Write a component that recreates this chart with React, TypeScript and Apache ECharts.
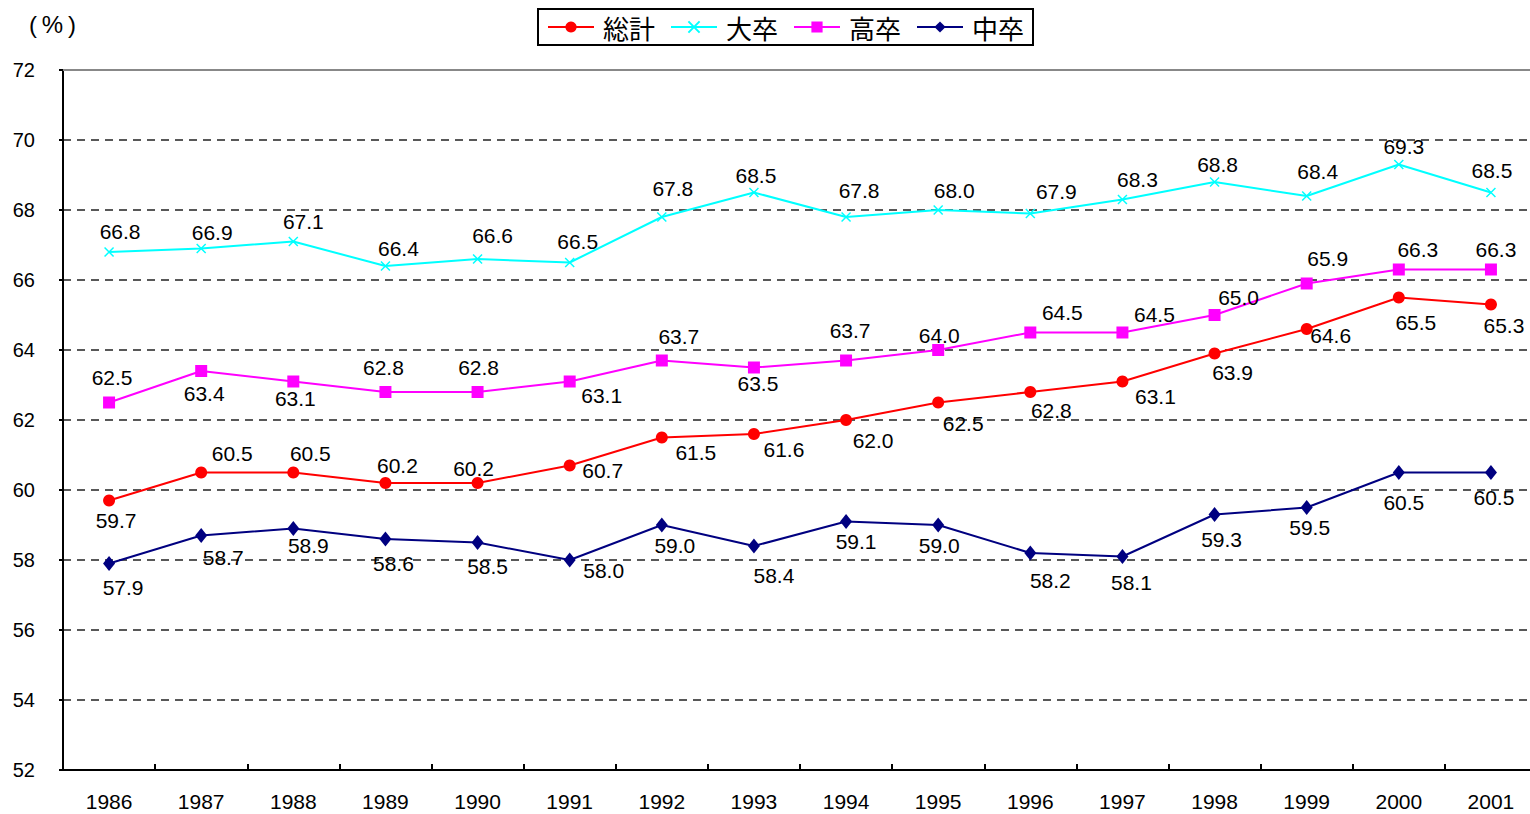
import React, { useEffect, useRef } from "react";
import * as echarts from "echarts";

const years = ["1986","1987","1988","1989","1990","1991","1992","1993","1994","1995","1996","1997","1998","1999","2000","2001"];
const total = [59.7, 60.5, 60.5, 60.2, 60.2, 60.7, 61.5, 61.6, 62.0, 62.5, 62.8, 63.1, 63.9, 64.6, 65.5, 65.3];
const univ = [66.8, 66.9, 67.1, 66.4, 66.6, 66.5, 67.8, 68.5, 67.8, 68.0, 67.9, 68.3, 68.8, 68.4, 69.3, 68.5];
const high = [62.5, 63.4, 63.1, 62.8, 62.8, 63.1, 63.7, 63.5, 63.7, 64.0, 64.5, 64.5, 65.0, 65.9, 66.3, 66.3];
const junior = [57.9, 58.7, 58.9, 58.6, 58.5, 58.0, 59.0, 58.4, 59.1, 59.0, 58.2, 58.1, 59.3, 59.5, 60.5, 60.5];
const seriesNames = ["総計", "大卒", "高卒", "中卒"];
const yMin = 52;
const yMax = 72;

// label placement offsets (dx, dy) relative to each point
const totalLabelOffsets = [[7,20],[31,-19],[17,-19],[12,-18],[-4,-15],[33,5],[34,15],[30,15],[27,20],[25,21],[21,18],[33,15],[18,19],[24,6],[17,25],[13,21]];
const univLabelOffsets = [[11,-21],[11,-16],[10,-20],[13,-18],[15,-24],[8,-21],[11,-29],[2,-17],[13,-27],[16,-20],[26,-22],[15,-20],[3,-18],[11,-25],[5,-18],[1,-22]];
const highLabelOffsets = [[3,-25],[3,22],[2,17],[-2,-25],[1,-25],[32,14],[17,-24],[4,16],[4,-30],[1,-15],[32,-20],[32,-18],[24,-18],[21,-25],[19,-20],[5,-20]];
const juniorLabelOffsets = [[14,24],[22,22],[15,17],[8,24],[10,24],[34,10],[13,20],[20,29],[10,20],[1,20],[20,27],[9,26],[7,25],[3,20],[5,30],[3,25]];

const NUM_FONT = "'Liberation Sans', Arial, sans-serif";
const JP_FONT = "'Noto Sans CJK JP', sans-serif";

function buildData(values: number[], offsets: number[][]) {
  return values.map((v, i) => ({
    value: v,
    label: { offset: offsets[i] },
  }));
}

export default function App() {
  const ref = useRef<HTMLDivElement>(null);
  useEffect(() => {
    if (!ref.current) return;
    const chart = echarts.init(ref.current, undefined, { renderer: "svg" });
    const label = {
      show: true,
      position: "inside" as const,
      color: "#000",
      fontSize: 21,
      fontFamily: NUM_FONT,
      formatter: (p: any) => Number(p.value).toFixed(1),
    };
    chart.setOption({
      animation: false,
      backgroundColor: "#fff",
      graphic: [
        {
          type: "text",
          left: 29,
          top: 12,
          style: { text: "(\u2009%\u2009)", fontSize: 24, fontFamily: NUM_FONT, fill: "#000" },
        },
      ],
      legend: {
        left: 538,
        top: 9,
        orient: "horizontal",
        padding: [5, 9, 5, 9],
        itemWidth: 46,
        itemHeight: 14,
        itemGap: 15,
        borderColor: "#000",
        borderWidth: 2,
        backgroundColor: "#fff",
        textStyle: { fontSize: 26, fontFamily: JP_FONT, color: "#000", padding: [0, 0, 0, 4] },
        data: seriesNames,
      },
      grid: {
        left: 63,
        right: 0,
        top: 70,
        bottom: 44,
        show: true,
        borderColor: "#888",
        borderWidth: 2,
        backgroundColor: "#fff",
      },
      xAxis: {
        type: "category",
        data: years,
        boundaryGap: true,
        axisLine: { show: true, lineStyle: { color: "#000", width: 2 } },
        axisTick: { show: true, inside: true, length: 6, alignWithLabel: false, lineStyle: { color: "#000", width: 2 } },
        axisLabel: { color: "#000", fontSize: 21, fontFamily: NUM_FONT, margin: 21 },
        splitLine: { show: false },
      },
      yAxis: {
        type: "value",
        min: yMin,
        max: yMax,
        interval: 2,
        axisLine: { show: true, lineStyle: { color: "#000", width: 2 } },
        axisTick: { show: true, length: 4, lineStyle: { color: "#000", width: 2 } },
        axisLabel: { color: "#000", fontSize: 20, fontFamily: NUM_FONT, margin: 28 },
        splitLine: { show: true, lineStyle: { color: "#222", width: 1.5, type: [8, 6] } },
      },
      series: [
        {
          name: "総計",
          type: "line",
          data: buildData(total, totalLabelOffsets),
          symbol: "circle",
          symbolSize: 12,
          itemStyle: { color: "#ff0000" },
          lineStyle: { color: "#ff0000", width: 2 },
          label,
          z: 4,
          markLine: {
            silent: true,
            symbol: "none",
            label: { show: false },
            lineStyle: { color: "#888", width: 2, type: "solid" },
            data: [{ yAxis: yMax }],
          },
        },
        {
          name: "大卒",
          type: "line",
          data: buildData(univ, univLabelOffsets),
          symbol: "path://M0,0L10,10M10,0L0,10",
          symbolSize: 9,
          itemStyle: { color: "#00ffff", borderColor: "#00ffff", borderWidth: 1.5 },
          lineStyle: { color: "#00ffff", width: 2 },
          label,
          z: 3,
        },
        {
          name: "高卒",
          type: "line",
          data: buildData(high, highLabelOffsets),
          symbol: "rect",
          symbolSize: 12,
          itemStyle: { color: "#ff00ff" },
          lineStyle: { color: "#ff00ff", width: 2 },
          label,
          z: 5,
        },
        {
          name: "中卒",
          type: "line",
          data: buildData(junior, juniorLabelOffsets),
          symbol: "diamond",
          symbolSize: [12, 15],
          itemStyle: { color: "#000080" },
          lineStyle: { color: "#000080", width: 2 },
          label,
          z: 2,
        },
      ],
    });
    return () => chart.dispose();
  }, []);
  return (
    <div
      ref={ref}
      style={{ position: "fixed", left: 0, top: 0, width: 1537, height: 814, background: "#fff" }}
    />
  );
}
